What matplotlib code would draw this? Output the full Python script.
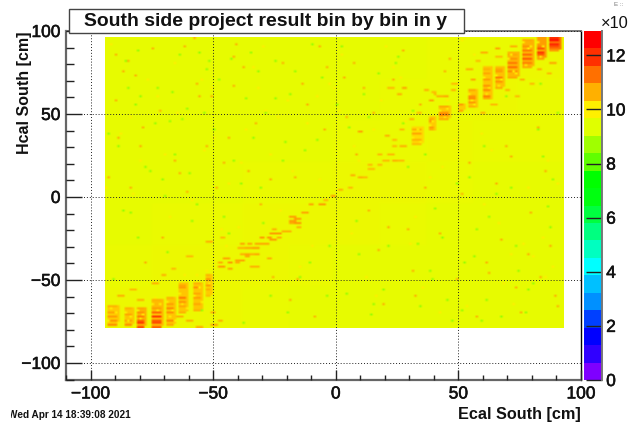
import matplotlib
matplotlib.use("Agg")
import matplotlib.patheffects as pe
import matplotlib.pyplot as plt
import numpy as np
from matplotlib.colors import BoundaryNorm, LinearSegmentedColormap, ListedColormap
from matplotlib.patches import Rectangle
from matplotlib.transforms import Bbox

plt.rcParams["font.family"] = ["Liberation Sans", "DejaVu Sans"]

# palette bands of the z axis, bottom to top, 20 contours
band_colors = ["#7f00ff", "#3000ff", "#0000ff", "#0040ff", "#0090ff", "#00c0ff", "#00ffff", "#00ffc0",
               "#00ff80", "#00ff40", "#00ff10", "#00ff00", "#60ff00", "#a0ff00", "#e0ff00",
               "#fff000", "#ffb000", "#ff7000", "#ff3000", "#ff0000"]
z_top = 12.9
z_ticks = [0, 2, 4, 6, 8, 10, 12]

# histogram range (cm)
x_lo, x_hi, x_bin = -94, 93, 1.0
y_lo, y_hi, y_bin = -79, 96, 1.25

# mean level of the flat part, coarse tiles, top row first
base_levels = [
    [9.50, 9.50, 9.50, 9.50, 9.52, 9.52, 9.52, 9.54, 9.56, 9.60],
    [9.50, 9.50, 9.50, 9.50, 9.52, 9.52, 9.54, 9.56, 9.60, 9.56],
    [9.50, 9.50, 9.52, 9.52, 9.52, 9.54, 9.56, 9.60, 9.56, 9.54],
    [9.52, 9.52, 9.52, 9.54, 9.56, 9.58, 9.60, 9.56, 9.52, 9.50],
    [9.52, 9.54, 9.56, 9.58, 9.60, 9.58, 9.54, 9.52, 9.50, 9.50],
    [9.56, 9.58, 9.60, 9.60, 9.56, 9.52, 9.52, 9.50, 9.50, 9.50],
    [9.60, 9.62, 9.60, 9.54, 9.52, 9.52, 9.50, 9.50, 9.50, 9.48],
]

# towers along the ridge: x0, x1, body level, then y and value of each hot strip
tower_x = [(-93, -88), (-86, -82), (-81, -77), (-75, -70), (-69, -65), (-64, -60), (-58, -54), (-53, -50),
           (60, 64), (65, 69), (70, 75), (76, 81), (82, 86), (87, 92),
           (54, 58), (50, 53), (42, 47), (38, 41), (31, 36)]
tower_body = [10.35, 10.4, 10.6, 10.5, 10.4, 10.4, 10.4, 10.35,
              10.4, 10.45, 10.55, 10.6, 10.8, 11.2,
              10.4, 10.35, 10.4, 10.35, 10.2]
tower_y = [[-66, -69, -72, -75, -77], [-67, -71, -74, -77], [-67, -70, -72, -74, -76, -78],
           [-62, -67, -70, -72, -74, -76, -78], [-61, -64, -67, -70, -74, -77], [-53, -55, -61, -63, -66, -69],
           [-52, -55, -58, -61, -64, -68], [-47, -50, -53, -56, -59],
           [77, 74, 70, 67, 64, 61, 59], [77, 75, 72, 69, 66], [86, 83, 80, 78, 75, 72],
           [94, 91, 88, 85, 83, 81, 78], [95, 91, 89, 87, 85, 83], [96, 94, 92, 91, 89, 88],
           [64, 61, 59, 57, 54], [55, 52], [54, 51, 49, 47], [47, 45, 42, 40], [41, 38, 34, 32]]
tower_v = [[10.6, 10.7, 10.8, 10.9, 11.0], [10.6, 10.7, 10.8, 11.0], [10.7, 10.9, 11.1, 11.4, 11.8, 11.6],
           [10.6, 10.8, 11.3, 11.8, 11.5, 11.6, 11.4], [10.6, 10.8, 11.0, 10.9, 11.0, 10.7], [10.7, 10.8, 11.2, 10.9, 10.7, 10.6],
           [10.6, 10.9, 10.7, 10.8, 10.7, 10.6], [10.6, 10.9, 10.8, 10.6, 10.5],
           [10.6, 10.7, 10.8, 10.9, 11.0, 11.1, 10.7], [10.7, 10.8, 11.1, 10.9, 10.7], [10.7, 10.9, 11.2, 11.3, 11.0, 10.7],
           [10.7, 10.9, 11.1, 11.3, 11.5, 11.1, 10.7], [10.8, 11.0, 11.5, 11.8, 11.4, 10.8], [11.9, 12.4, 12.0, 11.6, 11.2, 10.8],
           [10.7, 10.9, 11.0, 10.8, 10.6], [10.8, 10.7], [10.7, 10.9, 11.1, 10.7], [10.7, 10.9, 10.8, 10.6], [10.6, 10.7, 10.6, 10.5]]

# holes of plain yellow inside the towers: x, y
hole_x = [-91, -89, -92, -88, -85, -83, -84, -80, -78, -79, -74, -72, -71, -73, -68, -66, -67, -65, -63, -61, -62, -60,
          -57, -55, -56, -54, -52, -51, 61, 63, 62, 66, 68, 67, 71, 73, 74, 72, 77, 79, 80, 78, 83, 85, 84, 55, 57, 56,
          43, 45, 46, 39, 40, 32, 34, 35]
hole_y = [-67, -70, -74, -76, -69, -72, -75, -68, -71, -73, -64, -68, -65, -61, -63, -68, -72, -75, -58, -47, -64, -67,
          -60, -54, -47, -63, -44, -52, 72, 66, 62, 73, 70, 67, 83, 76, 74, 85, 93, 89, 90, 79, 93, 90, 84, 62, 56, 58,
          52, 48, 53, 43, 46, 36, 40, 33]

# shorter pieces between the towers: x0, x1, y, value
ridge_bits = [
    (-18, -16, -12, 10.8), (-18, -16, -14, 10.8), (-18, -16, -16, 10.7), (-16, -14, -13, 10.8), (-16, -14, -16, 10.9),
    (-15, -14, -18, 10.6), (-13, -11, -9, 10.7), (-10, -9, -4, 10.7), (-6, -4, -4, 10.8), (-4, -3, -2, 10.5), (-1, 0, 0, 10.8),
    (2, 3, 4, 10.6), (-26, -22, -22, 10.8), (-25, -24, -20, 10.6), (-21, -20, -21, 10.6), (-19, -18, -21, 10.6),
    (-30, -29, -25, 10.8), (-27, -26, -25, 10.8), (-30, -27, -28, 10.7), (-26, -24, -26, 10.8), (-23, -22, -25, 10.6),
    (-38, -37, -28, 10.7), (-35, -34, -28, 10.7), (-32, -31, -28, 10.7), (-39, -37, -31, 10.6), (-36, -34, -31, 10.7),
    (-33, -31, -31, 10.8), (-36, -34, -34, 10.7), (-36, -35, -36, 10.7), (-34, -33, -34, 10.6), (-32, -31, -34, 10.7),
    (-45, -43, -37, 10.7), (-40, -37, -38, 10.7), (-43, -42, -40, 10.8), (-47, -46, -40, 10.6), (-47, -45, -42, 10.8),
    (-43, -42, -43, 10.7), (-40, -39, -40, 10.6), (-38, -37, -35, 10.6), (-34, -33, -42, 10.6), (-32, -31, -42, 10.6),
    (-27, -26, -37, 10.6), (24, 25, 34, 10.5), (24, 25, 31, 10.5), (27, 28, 30, 10.6), (28, 29, 31, 10.6),
    (18, 19, 25, 10.5), (22, 24, 25, 10.5), (24, 25, 22, 10.6), (20, 22, 22, 10.5), (26, 28, 22, 10.5),
    (14, 15, 19, 10.5), (14, 16, 17, 10.5), (18, 19, 19, 10.5), (7, 8, 13, 10.6), (10, 11, 12, 10.6), (12, 13, 12, 10.5), (6, 7, 5, 10.5),
    (28, 29, 66, 10.7), (37, 38, 64, 10.6), (40, 41, 63, 10.5), (26, 27, 62, 10.6), (22, 24, 65, 10.5), (39, 40, 58, 10.7),
    (42, 44, 61, 10.6), (45, 46, 61, 10.7), (31, 32, 47, 10.6), (34, 35, 50, 10.5), (10, 11, 39, 10.7), (21, 22, 37, 10.6), (27, 28, 40, 10.5),
    (48, 49, 64, 10.6), (48, 50, 68, 10.5), (56, 57, 71, 10.7), (54, 56, 77, 10.6), (60, 62, 87, 10.6), (66, 67, 89, 10.7),
    (72, 74, 91, 10.6), (58, 59, 82, 10.5), (66, 68, 84, 10.5), (76, 77, 71, 10.6), (83, 84, 77, 10.6), (88, 90, 80, 10.7),
    (87, 88, 74, 10.5), (80, 81, 68, 10.5), (70, 71, 64, 10.6), (74, 75, 60, 10.5), (64, 66, 56, 10.5), (60, 61, 50, 10.6),
    (-88, -86, -60, 10.6), (-80, -78, -62, 10.6), (-83, -81, -56, 10.5), (-74, -72, -52, 10.6), (-70, -69, -47, 10.6),
    (-66, -65, -43, 10.5), (-60, -58, -36, 10.5), (-52, -50, -27, 10.6), (-46, -45, -24, 10.5), (-64, -62, -72, 10.6), (-60, -58, -75, 10.6),
    (-56, -54, -78, 10.6), (-50, -48, -77, 10.7), (-47, -46, -75, 10.6), (-50, -49, -70, 10.6),
]

# single cells
green_x = [-85, -80, -63, -51, -55, -52, -84, -72, -66, -81, -79, -60, -53, -62, -42, -34, -31, -24, -16, -36, -24,
           -88, -70, -45, -20, -10, 5, 15, 22, 40, 58, 83, 62, 75, 30, 12, -5, -58, -80, -30, 48, 66, 88, 35, 10,
           -90, -67, -12, 25, 55, 78, 41, 6, -41, -26, 70, 84, 53, -75, 28,
           -92, -77, -65, -49, -38, -28, -18, -7, 3, 14, 26, 37, 50, 61, 72, 85, -86, -73, -59, -47, -33, -21, -9, 1, 18, 32,
           44, 57, 68, 81, 91, -83, -68, -56, -43, -29, -14, -2, 9, 20, 34, 46, 60, 74, 87, 63, 79, 89, 52, 39, 16, -3, -19, -37, -54, -69]
green_y = [82, 88, 85, 82, 87, 77, 65, 66, 63, 56, 60, 53, 51, 47, 83, 87, 75, 82, 75, 59, 59,
           30, 10, -12, 33, -40, -58, -71, -30, -50, -20, 40, -62, -45, 18, 62, 72, -15, -25, 5, -75, 2, -18, -66, -35,
           -50, 45, 28, 80, 12, -70, -7, 42, 22, -60, 60, 68, -40, 15, 44,
           38, 18, 26, 40, 8, 50, 62, 34, 90, 48, 84, 26, 8, 30, 6, 24, -8, 44, 14, 70, 36, 22, 92, 55, 74, 52,
           -24, -36, -72, -52, 50, -10, -33, -4, -22, -16, -48, -30, -14, -56, -28, -62, -74, -30, -6, -12, -56, 10, -68, -44, -64, -60, -70, -76, -68, 0]
warm_x = [-57, -74, -61, -89, -84, -86, -81, -56, -41, -13, -41, -21, -89, -78, -40,
          -65, -48, -30, -4, 12, 28, 45, 70, 86, -92, -70, -45, -15, 18, 35, 55, 80, 20, -8, 62, 74, 5, -25, -60, 88,
          -35, 24, 41, 66, 83, -52, -77, 9, 50, 30, -18, 47, 76, -3, -88, 58, 14, 68, 37, 90,
          -71, -55, -43, -32, -16, -6, 16, 32, 52, 72, 84, -79, -63, -37, -11, 4, 22, 43, 63, 79, 91, -83, -50, -26, 8, 33]
warm_y = [95, 89, 91, 86, 82, 75, 73, 68, 67, 68, 84, 80, 58, 42, 92,
          22, 5, -5, 40, 66, 88, 75, 30, 15, 12, -25, 20, -50, -32, 55, 20, -10, -64, -72, -40, -55, 48, -48, 3, -30,
          15, 70, 62, 8, 42, 30, -40, 25, -50, -20, -62, 83, -70, 78, 36, -72, -8, -26, 6, -60,
          52, 60, 36, 44, 12, 90, 50, -44, 2, 24, -48, 30, 14, 78, 56, 72, -18, -22, -46, -34, -66, 6, 60, 10, 80, -60]
yellow_x = [-91, -76, -64, -49, -38, -28, -17, -7, 3, 16, 27, 39, 52, 64, 79, 89, -83, -69, -54, -43, -33, -22, -11,
            0, 10, 21, 33, 46, 60, 72, 85, -87, -72, -58, -46, -36, -26, -14, -2, 8, 19, 31, 44, 57, 69, 81, 91,
            -93, -79, -65, -50, -39, -29, -19, -9, 2, 13, 24, 36, 49, 61, 73, 86, -82, -67, -53, -44, -31, -23, -6,
            7, 17, 29, 43, 54, 67, 77, 87]
yellow_y = [92, 70, 50, 35, 20, 52, 15, 60, 85, 40, 72, 12, 94, 28, 5, -42, 48, 26, 71, 8, 78, -8, 44, 66, 22, 90,
            -12, 58, 38, -35, -25, 38, 60, -2, -20, 40, 25, -42, 68, 30, 58, -28, 18, 86, -52, -36, 8, 5, 22, 80,
            65, -18, 90, 58, -30, 52, -48, 78, -55, 34, -5, -65, -48, 2, -12, 28, -30, 66, 48, 10, -22, -60, 46,
            -70, -66, -16, -28, 22]

# tiny label in the top right corner of the canvas
corner_text = "E ::"

nx = int((x_hi - x_lo) / x_bin)
ny = int((y_hi - y_lo) / y_bin)
x_edges = x_lo + x_bin * np.arange(nx + 1)
y_edges = y_lo + y_bin * np.arange(ny + 1)
x_mid = (x_edges[:-1] + x_edges[1:]) / 2
y_mid = (y_edges[:-1] + y_edges[1:]) / 2

base = np.array(base_levels)
col = ((x_mid - x_lo) / (x_hi - x_lo) * base.shape[1]).astype(int)
row = ((y_hi - y_mid) / (y_hi - y_lo) * base.shape[0]).astype(int)
z = base[np.ix_(row, col)]


def put(x0, x1, y, value):
    i = np.clip(np.searchsorted(y_edges, y) - 1, 0, ny - 1)
    j0 = np.clip(np.searchsorted(x_edges, x0) - 1, 0, nx - 1)
    j1 = np.clip(np.searchsorted(x_edges, x1), j0 + 1, nx)
    z[i, j0:j1] = value


for x, y in zip(yellow_x, yellow_y):
    put(x, x, y, 10.0)
for x, y in zip(green_x, green_y):
    put(x, x, y, 8.6)
for x, y in zip(warm_x, warm_y):
    put(x, x, y, 10.6)
for (x0, x1), body, ys in zip(tower_x, tower_body, tower_y):
    z[np.ix_((y_mid >= min(ys)) & (y_mid <= max(ys) + 1), (x_mid >= x0) & (x_mid < x1))] = body
for (x0, x1), ys, vs in zip(tower_x, tower_y, tower_v):
    for y, v in zip(ys, vs):
        put(x0 + 1, x1 - 1, y, v)
for x, y in zip(hole_x, hole_y):
    put(x, x, y, 10.0)
for x0, x1, y, v in ridge_bits:
    put(x0, x1, y, v)

anchors = [(0.0, band_colors[0])]
anchors += [((i + 0.5) / 20, c) for i, c in enumerate(band_colors)]
anchors += [(1.0, band_colors[-1])]
smooth = LinearSegmentedColormap.from_list("root_rainbow", anchors)

fig = plt.figure(figsize=(6.28, 4.29), dpi=100)
W, H = 628, 429
ax = fig.add_axes([66 / W, 1 - 379.5 / H, (581 - 66) / W, (379.5 - 31) / H])
ax.imshow(z, origin="lower", extent=[x_lo, x_hi, y_lo, y_hi], aspect="auto", cmap=smooth, vmin=0, vmax=z_top,
          interpolation="bilinear", interpolation_stage="rgba", zorder=1)
ax.set_xlim(-110, 100)
ax.set_ylim(-110, 100)
ax.set_xticks([-100, -50, 0, 50, 100])
ax.set_yticks([-100, -50, 0, 50, 100])
ax.set_xticks(np.arange(-110, 101, 10), minor=True)
ax.set_yticks(np.arange(-110, 101, 10), minor=True)
ax.grid(True, which="major", color="#222222", linestyle=(0, (1, 2)), linewidth=0.7, zorder=3)
ax.set_axisbelow(False)
ax.tick_params(axis="x", which="major", direction="in", length=7.2, width=1, labelsize=12.5, pad=5, color="#222222")
ax.tick_params(axis="x", which="minor", direction="in", length=3.6, width=1, color="#222222")
ax.tick_params(axis="y", which="major", direction="in", length=11.5, width=1, labelsize=12.5, pad=4, color="#222222")
ax.tick_params(axis="y", which="minor", direction="in", length=5.8, width=1, color="#222222")
for side, c, lw in [("left", "#666666", 1.6), ("bottom", "#666666", 1.6), ("top", "#777777", 1.4), ("right", "black", 1.0)]:
    ax.spines[side].set_color(c)
    ax.spines[side].set_linewidth(lw)

# z axis
cax = fig.add_axes([584 / W, 1 - 380 / H, (602 - 584) / W, (380 - 31) / H])
levels = np.linspace(0, z_top, 21)
cax.pcolormesh([0, 1], levels, levels[:-1].reshape(-1, 1), cmap=ListedColormap(band_colors),
               norm=BoundaryNorm(levels, 20))
cax.set_xticks([])
cax.set_ylim(0, z_top)
cax.yaxis.tick_right()
cax.set_yticks(z_ticks)
cax.tick_params(axis="y", direction="in", length=11.5, width=1, labelsize=12.5, pad=3, color="#222222")
for side in ["left", "top", "bottom"]:
    cax.spines[side].set_visible(False)
cax.spines["right"].set_color("#777777")
cax.spines["right"].set_linewidth(1.4)

# thicken the thin labels a little, the reference was resampled
for lab in ax.get_xticklabels() + ax.get_yticklabels() + cax.get_yticklabels():
    lab.set_color("#111111")
    lab.set_path_effects([pe.withStroke(linewidth=0.4, foreground="#111111")])

# title box sits over the frame
fig.add_artist(Rectangle((69 / W, 1 - 33 / H), (464 - 69) / W, 24 / H, transform=fig.transFigure, facecolor="white",
                         edgecolor="#444444", linewidth=1.0, zorder=5))
fig.text(84 / W, 1 - 21 / H, "South side project result bin by bin in y", fontsize=13.95, fontweight="bold",
         ha="left", va="center", color="#111111", zorder=6)

fig.text(581 / W, 1 - 414 / H, "Ecal South [cm]", fontsize=11.7, fontweight="bold", ha="right", va="center", color="#111111")
fig.text(25 / W, 1 - 32 / H, "Hcal South [cm]", fontsize=11.5, fontweight="bold", rotation=90, ha="center", va="top", color="#111111")
fig.text(601 / W, 1 - 23 / H, "×10", fontsize=11.8, ha="left", va="center", color="#111111")
fig.text(614 / W, 1 - 5 / H, corner_text, fontsize=4.5, ha="left", va="center", color="#777777")
stamp = fig.text(8 / W, 1 - 415 / H, "Wed Apr 14 18:39:08 2021", fontsize=7.2, fontweight="bold", ha="left", va="center", color="#111111")
stamp.set_clip_box(Bbox([[11, 0], [W, H]]))
stamp.set_clip_on(True)

fig.savefig("out.png", dpi=100)
